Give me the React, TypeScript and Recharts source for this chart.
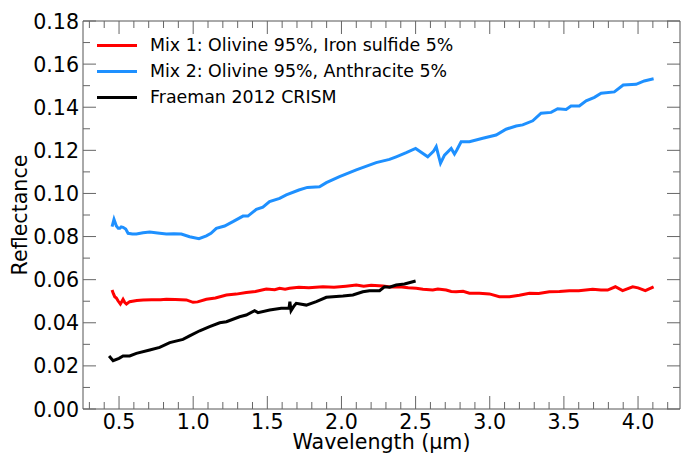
import React from 'react';
import { LineChart, Line, XAxis, YAxis, Legend } from 'recharts';

// wavelength (um) / reflectance
const mix1Wavelength = [0.453, 0.462, 0.471, 0.482, 0.493, 0.509, 0.518, 0.527, 0.538, 0.55, 0.572, 0.62, 0.662, 0.72, 0.78, 0.819, 0.88, 0.954, 0.999, 1.03, 1.089, 1.15, 1.224, 1.29, 1.358, 1.42, 1.493, 1.55, 1.583, 1.62, 1.65, 1.713, 1.78, 1.875, 1.95, 2.03, 2.1, 2.15, 2.2, 2.279, 2.33, 2.392, 2.45, 2.504, 2.55, 2.616, 2.65, 2.706, 2.74, 2.773, 2.82, 2.863, 2.93, 2.998, 3.065, 3.133, 3.2, 3.268, 3.33, 3.402, 3.47, 3.537, 3.6, 3.694, 3.75, 3.795, 3.847, 3.896, 3.964, 4.0, 4.049, 4.105];
const mix1Reflectance = [0.0552, 0.0535, 0.0521, 0.0515, 0.0502, 0.0487, 0.0498, 0.0509, 0.0495, 0.0487, 0.0498, 0.0503, 0.0506, 0.0507, 0.0507, 0.0509, 0.0508, 0.0506, 0.0495, 0.0497, 0.0509, 0.0515, 0.0529, 0.0533, 0.054, 0.0545, 0.0557, 0.0553, 0.056, 0.0556, 0.056, 0.0565, 0.0562, 0.0567, 0.0565, 0.057, 0.0575, 0.057, 0.0574, 0.0571, 0.0566, 0.0567, 0.0562, 0.056, 0.0556, 0.0552, 0.0557, 0.0552, 0.0545, 0.0544, 0.0546, 0.0537, 0.0537, 0.0534, 0.0521, 0.0521, 0.0528, 0.0537, 0.0536, 0.0544, 0.0545, 0.0549, 0.0549, 0.0555, 0.0552, 0.0552, 0.0567, 0.0549, 0.0567, 0.0562, 0.0549, 0.0567];

const mix2Wavelength = [0.453, 0.466, 0.482, 0.495, 0.505, 0.515, 0.527, 0.545, 0.561, 0.59, 0.617, 0.662, 0.707, 0.76, 0.819, 0.87, 0.92, 0.976, 1.039, 1.089, 1.12, 1.156, 1.212, 1.268, 1.336, 1.369, 1.426, 1.47, 1.515, 1.583, 1.628, 1.713, 1.77, 1.852, 1.898, 1.987, 2.1, 2.234, 2.324, 2.369, 2.437, 2.5, 2.582, 2.62, 2.639, 2.668, 2.695, 2.74, 2.762, 2.778, 2.807, 2.863, 2.953, 3.043, 3.11, 3.178, 3.222, 3.29, 3.346, 3.414, 3.458, 3.515, 3.548, 3.604, 3.65, 3.706, 3.751, 3.84, 3.9, 3.987, 4.042, 4.105];
const mix2Reflectance = [0.0846, 0.088, 0.0849, 0.0838, 0.0838, 0.0845, 0.0843, 0.0835, 0.0815, 0.0812, 0.0812, 0.0818, 0.0821, 0.0817, 0.0812, 0.0813, 0.0812, 0.0799, 0.079, 0.0803, 0.0815, 0.0838, 0.0849, 0.0869, 0.0895, 0.0895, 0.0926, 0.0936, 0.0962, 0.0977, 0.0993, 0.1016, 0.1028, 0.1031, 0.105, 0.1078, 0.1109, 0.1143, 0.1158, 0.117, 0.1189, 0.1209, 0.117, 0.1195, 0.1217, 0.114, 0.1178, 0.1209, 0.1183, 0.1202, 0.124, 0.124, 0.1256, 0.1271, 0.1298, 0.1313, 0.1318, 0.1337, 0.1372, 0.1376, 0.1393, 0.139, 0.1406, 0.1406, 0.143, 0.1446, 0.1465, 0.1471, 0.1503, 0.1506, 0.1522, 0.1532];

const crismWavelength = [0.433, 0.46, 0.5, 0.527, 0.572, 0.617, 0.707, 0.774, 0.842, 0.931, 0.976, 1.044, 1.111, 1.179, 1.224, 1.313, 1.358, 1.414, 1.437, 1.516, 1.594, 1.646, 1.652, 1.66, 1.68, 1.695, 1.763, 1.83, 1.898, 1.942, 2.01, 2.077, 2.144, 2.189, 2.257, 2.29, 2.324, 2.369, 2.425, 2.5];
const crismReflectance = [0.0246, 0.0224, 0.0235, 0.0246, 0.0246, 0.0258, 0.0274, 0.0286, 0.0308, 0.0323, 0.0339, 0.0363, 0.0382, 0.04, 0.0405, 0.0428, 0.0436, 0.0456, 0.0447, 0.0459, 0.0467, 0.0467, 0.0498, 0.0456, 0.0478, 0.049, 0.0482, 0.0498, 0.0518, 0.0521, 0.0524, 0.0529, 0.0544, 0.0549, 0.0549, 0.0567, 0.0565, 0.0575, 0.058, 0.0594];

const xMajorTicks = [0.5, 1.0, 1.5, 2.0, 2.5, 3.0, 3.5, 4.0];
const xMinorTicks = [0.3, 0.4, 0.6, 0.7, 0.8, 0.9, 1.1, 1.2, 1.3, 1.4, 1.6, 1.7, 1.8, 1.9, 2.1, 2.2, 2.3, 2.4, 2.6, 2.7, 2.8, 2.9, 3.1, 3.2, 3.3, 3.4, 3.6, 3.7, 3.8, 3.9, 4.1, 4.2];
const yMajorTicks = [0, 0.02, 0.04, 0.06, 0.08, 0.1, 0.12, 0.14, 0.16, 0.18];
const yMinorTicks = [0.01, 0.03, 0.05, 0.07, 0.09, 0.11, 0.13, 0.15, 0.17];

const seriesNames = ['Mix 1: Olivine 95%, Iron sulfide 5%', 'Mix 2: Olivine 95%, Anthracite 5%', 'Fraeman 2012 CRISM'];
const seriesColors = ['#ff0000', '#1e90ff', '#000000'];

const FONT = '"DejaVu Sans", sans-serif';
const SPINE = '#555555';

const toPoints = (xs: number[], ys: number[]) => xs.map((x, i) => ({ x, y: ys[i] }));

const xTicks = [...xMajorTicks, ...xMinorTicks].sort((a, b) => a - b);
const yTicks = [...yMajorTicks, ...yMinorTicks].sort((a, b) => a - b);

function AxisTick(props: any) {
  const { x, y, payload, side, labels } = props;
  const v = payload.value;
  const major = side === 'bottom' || side === 'top' ? xMajorTicks.includes(v) : yMajorTicks.includes(v);
  const len = major ? 13 : 7;
  let line;
  if (side === 'bottom') line = <line x1={x} y1={y} x2={x} y2={y - len} stroke="#666" />;
  else if (side === 'top') line = <line x1={x} y1={y} x2={x} y2={y + len} stroke="#666" />;
  else if (side === 'left') line = <line x1={x} y1={y} x2={x + len} y2={y} stroke="#666" />;
  else line = <line x1={x} y1={y} x2={x - len} y2={y} stroke="#666" />;

  let label = null;
  if (labels && major) {
    if (side === 'bottom') {
      label = (
        <text x={x} y={y + 20} textAnchor="middle" fontSize={20.6} fontFamily={FONT} fill="#000">
          {v.toFixed(1)}
        </text>
      );
    } else {
      label = (
        <text x={x - 4} y={y + 7.5} textAnchor="end" fontSize={20.6} fontFamily={FONT} fill="#000">
          {v.toFixed(2)}
        </text>
      );
    }
  }
  return (
    <g>
      {line}
      {label}
    </g>
  );
}

function LegendBox() {
  return (
    <div style={{ fontFamily: FONT, fontSize: 17.4, color: '#000' }}>
      {seriesNames.map((name, i) => (
        <div key={name} style={{ display: 'flex', alignItems: 'center', height: 26, whiteSpace: 'nowrap' }}>
          <span style={{ display: 'inline-block', width: 40, height: 3, background: seriesColors[i], marginRight: 13 }} />
          <span>{name}</span>
        </div>
      ))}
    </div>
  );
}

export default function App() {
  const series = [
    toPoints(mix1Wavelength, mix1Reflectance),
    toPoints(mix2Wavelength, mix2Reflectance),
    toPoints(crismWavelength, crismReflectance),
  ];
  // top/right axes share the same domains, so series can sit on either pair
  const axisPairs = [
    ['bottom', 'left'],
    ['top', 'right'],
    ['bottom', 'left'],
  ];
  const xDomain = [0.257, 4.283];
  const yDomain = [0, 0.18];

  return (
    <div style={{ position: 'absolute', left: 0, top: 0, background: '#fff' }}>
      <LineChart width={681} height={454} margin={{ top: 20, right: 0, bottom: 0, left: 0 }}>
        <XAxis
          xAxisId="bottom"
          dataKey="x"
          type="number"
          domain={xDomain}
          allowDataOverflow
          ticks={xTicks}
          interval={0}
          height={45}
          tickSize={0}
          tickMargin={0}
          tickLine={false}
          axisLine={{ stroke: SPINE }}
          tick={(p: any) => <AxisTick {...p} side="bottom" labels />}
          label={{
            content: (lp: any) => {
              const vb = lp.viewBox;
              return (
                <text x={vb.x + vb.width / 2} y={vb.y + 40} textAnchor="middle" fontSize={20.6} fontFamily={FONT} fill="#000">
                  Wavelength (µm)
                </text>
              );
            },
          }}
        />
        <XAxis
          xAxisId="top"
          orientation="top"
          dataKey="x"
          type="number"
          domain={xDomain}
          allowDataOverflow
          ticks={xTicks}
          interval={0}
          height={1}
          tickSize={0}
          tickMargin={0}
          tickLine={false}
          axisLine={{ stroke: SPINE }}
          tick={(p: any) => <AxisTick {...p} side="top" />}
        />
        <YAxis
          yAxisId="left"
          type="number"
          domain={yDomain}
          allowDataOverflow
          ticks={yTicks}
          interval={0}
          width={83}
          tickSize={0}
          tickMargin={0}
          tickLine={false}
          axisLine={{ stroke: SPINE }}
          tick={(p: any) => <AxisTick {...p} side="left" labels />}
          label={{
            content: (lp: any) => {
              const vb = lp.viewBox;
              const cx = vb.x + 20;
              const cy = vb.y + vb.height / 2;
              return (
                <text
                  x={cx}
                  y={cy}
                  transform={`rotate(-90 ${cx} ${cy})`}
                  textAnchor="middle"
                  dominantBaseline="central"
                  fontSize={20.6}
                  fontFamily={FONT}
                  fill="#000"
                >
                  Reflectance
                </text>
              );
            },
          }}
        />
        <YAxis
          yAxisId="right"
          orientation="right"
          type="number"
          domain={yDomain}
          allowDataOverflow
          ticks={yTicks}
          interval={0}
          width={1}
          tickSize={0}
          tickMargin={0}
          tickLine={false}
          axisLine={{ stroke: SPINE }}
          tick={(p: any) => <AxisTick {...p} side="right" />}
        />
        <Legend
          layout="vertical"
          align="center"
          verticalAlign="middle"
          wrapperStyle={{ left: 97, top: 32, width: 'auto' }}
          content={() => <LegendBox />}
        />
        {series.map((pts, i) => (
          <Line
            key={seriesNames[i]}
            xAxisId={axisPairs[i][0]}
            yAxisId={axisPairs[i][1]}
            data={pts}
            dataKey="y"
            name={seriesNames[i]}
            type="linear"
            stroke={seriesColors[i]}
            strokeWidth={3}
            dot={false}
            activeDot={false}
            isAnimationActive={false}
          />
        ))}
      </LineChart>
    </div>
  );
}
